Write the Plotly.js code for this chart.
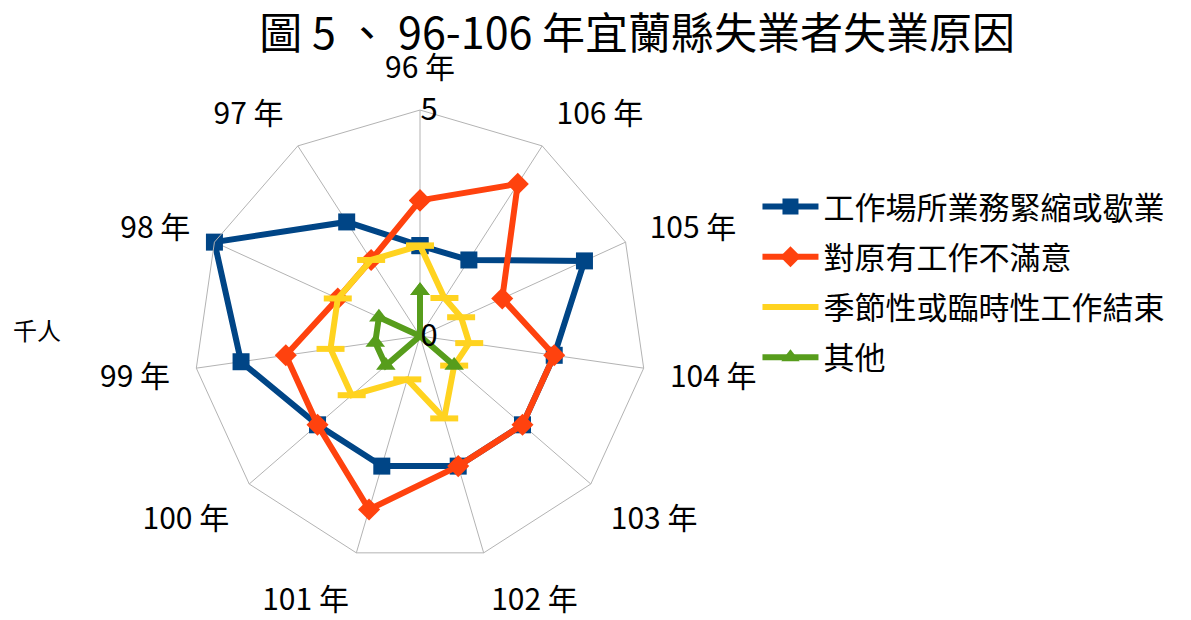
<!DOCTYPE html>
<html>
<head>
<meta charset="utf-8">
<script src="https://cdn.plot.ly/plotly-3.0.1.min.js"></script>
<style>html,body{margin:0;padding:0;background:#fff;}#chart{width:1191px;height:620px;}</style>
</head>
<body>
<div id="chart"></div>
<script>
const categories = ["96 年","97 年","98 年","99 年","100 年","101 年","102 年","103 年","104 年","105 年","106 年"];
const seriesNames = ["工作場所業務緊縮或歇業","對原有工作不滿意","季節性或臨時性工作結束","其他"];
const workplaceClosure = [2, 3, 5, 4, 3, 3, 3, 3, 3, 4, 2];
const dissatisfied     = [3, 2, 2, 3, 3, 4, 3, 3, 3, 2, 4];
const seasonalEnd      = [2, 2, 2, 2, 2, 1, 1.9, 1, 1.1, 1, 1];
const other            = [1, 0, 1, 1, 1, 0, 0, 1, 0, 0, 0];
const radialTicks = [0, 5];
const unitLabel = "千人";
const titleText = "圖 5 、 96-106 年宜蘭縣失業者失業原因";

const FONT = '"Noto Sans CJK TC", "Noto Sans", sans-serif';
const colors = ["#004586", "#ff420e", "#ffd320", "#579d1c"];
const symbols = ["square", "diamond", "line-ew", "triangle-up"];
const allSeries = [workplaceClosure, dissatisfied, seasonalEnd, other];

const traces = allSeries.map((vals, i) => {
  const isDash = symbols[i] === "line-ew";
  return {
    type: "scatterpolar",
    mode: "lines+markers",
    name: seriesNames[i],
    legendgroup: "g" + i,
    r: vals.concat([vals[0]]),
    theta: categories.concat([categories[0]]),
    line: {color: colors[i], width: 6},
    marker: {
      symbol: symbols[i],
      size: isDash ? 20 : 17,
      color: colors[i],
      line: {color: colors[i], width: isDash ? 6 : 0}
    },
    cliponaxis: false
  };
});

const layout = {
  width: 1191,
  height: 620,
  margin: {l: 0, r: 0, t: 0, b: 0},
  paper_bgcolor: "#fff",
  font: {family: FONT, color: "#000", size: 28},
  title: {
    text: titleText,
    font: {family: FONT, size: 43, color: "#000"},
    x: 0.535, xanchor: "center",
    y: 0.945, yanchor: "middle"
  },
  showlegend: true,
  legend: {
    x: 0.636, xanchor: "left",
    y: 0.71, yanchor: "top",
    font: {family: FONT, size: 31, color: "#000"},
    itemwidth: 56,
    tracegroupgap: 7,
    traceorder: "grouped",
    bgcolor: "rgba(0,0,0,0)"
  },
  polar: {
    domain: {x: [0.1629, 0.5424], y: [0.0935, 0.8226]},
    bgcolor: "#fff",
    gridshape: "linear",
    angularaxis: {
      type: "category",
      categoryorder: "array",
      categoryarray: categories,
      direction: "counterclockwise",
      rotation: 90,
      showline: true,
      linecolor: "#b3b3b3",
      linewidth: 1,
      showgrid: true,
      gridcolor: "#b3b3b3",
      gridwidth: 1,
      ticks: "outside",
      ticklen: 20,
      tickcolor: "rgba(0,0,0,0)",
      tickfont: {family: FONT, size: 30, color: "#000"}
    },
    radialaxis: {
      range: [0, 5],
      angle: 90,
      tickangle: 90,
      tickvals: radialTicks,
      ticktext: radialTicks.map(String),
      showgrid: false,
      showline: false,
      ticks: "",
      side: "clockwise",
      tickfont: {family: FONT, size: 31, color: "#000"}
    }
  },
  annotations: [{
    text: unitLabel,
    xref: "paper", yref: "paper",
    x: 0.031, y: 0.468,
    xanchor: "center", yanchor: "middle",
    showarrow: false,
    font: {family: FONT, size: 24, color: "#000"}
  }]
};

Plotly.newPlot("chart", traces, layout, {displayModeBar: false, staticPlot: true});
</script>
</body>
</html>
